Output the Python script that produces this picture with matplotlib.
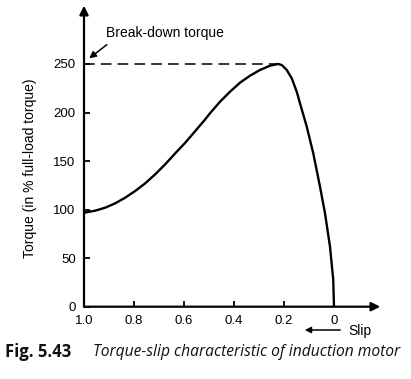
import matplotlib
matplotlib.use("Agg")
import matplotlib.pyplot as plt

# Data
slip = [1.0, 0.955, 0.915, 0.875, 0.835, 0.795, 0.755, 0.715, 0.675, 0.635,
        0.595, 0.555, 0.515, 0.496, 0.456, 0.416, 0.376, 0.336, 0.296, 0.256,
        0.223, 0.209, 0.189, 0.169, 0.149, 0.136, 0.109, 0.083, 0.056, 0.036,
        0.016, 0.003, 0.0]
torque = [96.8, 98.9, 102.0, 106.5, 112.3, 119.2, 127.1, 136.4, 146.7, 158.0,
          168.9, 180.9, 193.0, 199.2, 211.1, 221.4, 230.7, 237.9, 243.8, 248.2,
          250.0, 248.9, 243.8, 235.2, 221.4, 209.5, 185.4, 158.0, 123.6, 96.2,
          61.8, 27.5, 0.0]
breakdown_torque = 250
breakdown_slip = 0.223
x_ticks = [1.0, 0.8, 0.6, 0.4, 0.2, 0.0]
x_ticklabels = ["1.0", "0.8", "0.6", "0.4", "0.2", "0"]
y_ticks = [0, 50, 100, 150, 200, 250]

plt.rcParams['font.family'] = ['Liberation Sans', 'DejaVu Sans']

W, H = 411, 379
fig = plt.figure(figsize=(W / 100, H / 100), dpi=100)
ax = fig.add_axes([84 / W, (H - 306.7) / H, 296.25 / W, 301 / H])
ax.set_xlim(1.0, -0.185)
ax.set_ylim(0, 310)

for s in ax.spines.values():
    s.set_visible(False)

# axes with arrows
arrow_kw = dict(arrowstyle='-|>', lw=1.6, color='black', mutation_scale=13,
                shrinkA=0, shrinkB=0)
ax.annotate('', xy=(1, 0), xytext=(0, 0), xycoords='axes fraction',
            textcoords='axes fraction', arrowprops=arrow_kw, annotation_clip=False)
ax.annotate('', xy=(0, 1), xytext=(0, 0), xycoords='axes fraction',
            textcoords='axes fraction', arrowprops=arrow_kw, annotation_clip=False)

ax.plot(slip, torque, color='black', lw=1.7, solid_capstyle='round',
        solid_joinstyle='round')
ax.plot([1.0, breakdown_slip], [breakdown_torque, breakdown_torque],
        color='black', lw=1.1, dashes=(7, 4))

ax.set_xticks(x_ticks)
ax.set_xticklabels(x_ticklabels)
ax.set_yticks(y_ticks)
ax.tick_params(direction='in', length=4, width=1.3, labelsize=9.5, colors='black')
ax.tick_params(axis='x', pad=6)
ax.tick_params(axis='y', pad=6)

ax.set_ylabel('Torque (in % full-load torque)', fontsize=10)
ax.yaxis.set_label_coords(-0.157, 0.46)

# Break-down torque annotation
fig.text(106 / W, 1 - 32.5 / H, 'Break-down torque', fontsize=10, va='center', ha='left')
fig.add_artist(matplotlib.patches.FancyArrowPatch(
    (109 / W, 1 - 43 / H), (87 / W, 1 - 60 / H), transform=fig.transFigure,
    arrowstyle='-|>', mutation_scale=10, lw=1.1, color='black'))

# Slip annotation
fig.text(348 / W, 1 - 331 / H, 'Slip', fontsize=10, va='center', ha='left')
fig.add_artist(matplotlib.patches.FancyArrowPatch(
    (343 / W, 1 - 330 / H), (302 / W, 1 - 330 / H), transform=fig.transFigure,
    arrowstyle='-|>', mutation_scale=9, lw=1.1, color='black'))

# Caption
fig.text(5 / W, 1 - 352 / H, 'Fig. 5.43', fontsize=12, fontweight='bold',
         family=['Open Sans', 'DejaVu Sans'], va='center', ha='left', color='#111111')
fig.text(93 / W, 1 - 352 / H, 'Torque-slip characteristic of induction motor',
         fontsize=11.25, style='italic', family=['Open Sans', 'DejaVu Sans'],
         va='center', ha='left', color='#111111')

fig.savefig('out.png', dpi=100)
